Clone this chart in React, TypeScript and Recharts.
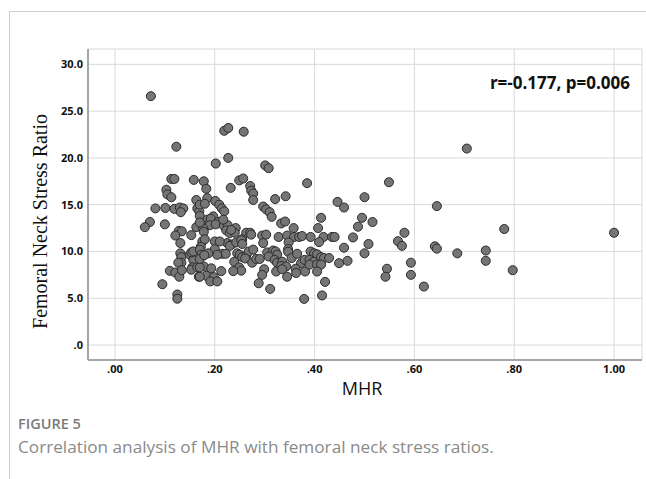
import {
  ScatterChart,
  Scatter,
  XAxis,
  YAxis,
  ZAxis,
  CartesianGrid,
  Label,
} from 'recharts';

// MHR (x) and femoral neck stress ratio (y)
const mhr = [
  0.072, 0.123, 0.113, 0.119, 0.158, 0.103, 0.105, 0.113, 0.163, 0.081,
  0.101, 0.119, 0.13, 0.137, 0.132, 0.165, 0.169, 0.07, 0.06, 0.1,
  0.163, 0.128, 0.134, 0.121, 0.153, 0.131, 0.131, 0.133, 0.133, 0.127,
  0.15, 0.157, 0.153, 0.155, 0.153, 0.11, 0.121, 0.129, 0.134, 0.165,
  0.168, 0.095, 0.125, 0.125, 0.157,
  0.227, 0.202, 0.219, 0.227, 0.258, 0.301, 0.308, 0.385, 0.178, 0.183,
  0.249, 0.257, 0.232, 0.271, 0.273, 0.277, 0.277, 0.321, 0.342, 0.446,
  0.185, 0.17, 0.18, 0.201, 0.209, 0.214, 0.219, 0.297, 0.303, 0.31,
  0.314, 0.413, 0.459, 0.17, 0.185, 0.197, 0.192, 0.207, 0.177, 0.19,
  0.202, 0.218, 0.226, 0.223, 0.242, 0.263, 0.271, 0.273, 0.333, 0.341,
  0.358, 0.407, 0.487, 0.177, 0.178, 0.23, 0.24, 0.295, 0.303, 0.328,
  0.345, 0.359, 0.369, 0.375, 0.392, 0.418, 0.435, 0.44, 0.477, 0.255,
  0.17, 0.217, 0.233, 0.225, 0.234,
  0.297, 0.348, 0.409, 0.459, 0.2, 0.21, 0.175, 0.18, 0.172, 0.17,
  0.23, 0.243, 0.253, 0.255, 0.2, 0.215, 0.222, 0.205, 0.187, 0.173,
  0.245, 0.25, 0.255, 0.263, 0.268, 0.277, 0.239, 0.249, 0.253, 0.237,
  0.261, 0.275, 0.283, 0.29, 0.305, 0.317, 0.322, 0.325, 0.308, 0.32,
  0.325, 0.335, 0.333, 0.347, 0.347, 0.354, 0.365, 0.373, 0.362, 0.363,
  0.381, 0.343, 0.345, 0.323, 0.335, 0.299, 0.295, 0.288, 0.311, 0.379,
  0.392, 0.399, 0.405, 0.413, 0.419, 0.429, 0.38, 0.39, 0.398, 0.39,
  0.405, 0.413, 0.405, 0.421, 0.415, 0.449, 0.466, 0.178, 0.193, 0.213,
  0.183, 0.198, 0.191, 0.205, 0.17, 0.17, 0.17, 0.179,
  0.705, 0.549, 0.5, 0.645, 0.495, 0.516, 0.58, 0.567, 0.575, 0.508,
  0.5, 0.641, 0.645, 0.686, 0.743, 0.743, 0.593, 0.593, 0.545, 0.542,
  0.619, 0.78, 0.797, 1.0,
];

const ratio = [
  26.6, 21.2, 17.75, 17.75, 17.65, 16.6, 16.1, 15.8, 15.5, 14.6,
  14.65, 14.55, 14.7, 14.6, 14.2, 14.6, 14.3, 13.15, 12.6, 12.9,
  12.6, 12.2, 12.15, 11.7, 11.75, 10.9, 9.8, 9.4, 8.8, 8.8,
  9.65, 9.1, 9.9, 8.3, 8.05, 7.93, 7.75, 7.3, 8.0, 8.3,
  7.3, 6.5, 5.4, 4.95, 10.0,
  20.0, 19.4, 22.9, 23.2, 22.8, 19.2, 18.9, 17.3, 17.5, 16.7,
  17.6, 17.8, 16.8, 17.0, 16.5, 16.2, 15.5, 15.6, 15.9, 15.3,
  15.7, 15.0, 15.1, 15.4, 15.0, 14.6, 14.3, 14.8, 14.5, 14.2,
  13.7, 13.6, 14.7, 13.8, 13.4, 13.75, 13.5, 13.15, 12.75, 12.8,
  12.9, 12.75, 12.8, 12.25, 12.5, 12.0, 12.0, 11.8, 13.0, 13.2,
  12.5, 12.5, 12.65, 12.45, 12.1, 11.97, 12.0, 11.7, 11.8, 11.55,
  11.7, 11.55, 11.55, 11.65, 11.55, 11.55, 11.55, 11.55, 11.5, 11.3,
  13.1, 13.4, 12.3, 10.9, 10.75,
  10.9, 10.96, 11.0, 10.4, 11.07, 11.07, 11.07, 11.3, 10.5, 10.2,
  10.6, 10.96, 11.2, 10.8, 10.25, 9.75, 9.75, 9.65, 9.8, 9.65,
  9.8, 9.65, 9.4, 9.55, 10.0, 10.2, 8.9, 8.3, 7.95, 7.9,
  9.25, 8.8, 9.2, 9.2, 9.9, 10.1, 10.0, 9.65, 9.46, 9.1,
  8.8, 8.9, 8.45, 10.25, 9.97, 9.3, 9.75, 8.75, 8.15, 7.7,
  7.86, 8.4, 7.3, 7.86, 8.1, 8.1, 7.5, 6.6, 6.0, 4.93,
  10.0, 9.8, 9.7, 9.4, 9.3, 9.3, 9.1, 9.1, 8.9, 8.6,
  8.6, 8.6, 7.86, 6.75, 5.3, 8.75, 9.0, 8.4, 8.2, 7.9,
  7.4, 7.25, 6.8, 6.8, 7.3, 8.3, 9.2, 9.6,
  21.0, 17.4, 15.8, 14.85, 13.6, 13.15, 12.0, 11.1, 10.6, 10.8,
  9.8, 10.55, 10.3, 9.8, 10.1, 9.0, 8.8, 7.5, 8.15, 7.3,
  6.25, 12.4, 8.0, 12.0,
];

const xTicks = [0, 0.2, 0.4, 0.6, 0.8, 1.0];
const yTicks = [0, 5, 10, 15, 20, 25, 30];

const points = mhr.map((x, i) => ({ x, y: ratio[i] }));

const fmtX = (v: number) => (v >= 1 ? v.toFixed(2) : v.toFixed(2).replace(/^0/, ''));
const fmtY = (v: number) => (v === 0 ? '.0' : v.toFixed(1));

const tickStyle = {
  fill: '#111',
  fontSize: 11,
  fontWeight: 700,
  fontFamily: '"Open Sans", sans-serif',
};

export default function App() {
  return (
    <div
      style={{
        position: 'fixed',
        top: 0,
        left: 0,
        width: 646,
        height: 479,
        overflow: 'hidden',
        background: '#fff',
      }}
    >
      {/* card frame */}
      <div
        style={{
          position: 'absolute',
          left: 9,
          top: 11,
          width: 700,
          height: 600,
          borderTop: '1px solid #cfcfcf',
          borderLeft: '1px solid #cfcfcf',
        }}
      />
      <div style={{ position: 'absolute', left: 0, top: 0 }}>
        <ScatterChart
          width={646}
          height={408}
          margin={{ top: 49, right: 4, bottom: 0, left: 0 }}
        >
          <CartesianGrid stroke="#d9d9d9" strokeWidth={1} />
          <XAxis
            type="number"
            dataKey="x"
            domain={[-0.054, 1.056]}
            ticks={xTicks}
            tickFormatter={fmtX}
            allowDataOverflow
            height={48}
            tickSize={0}
            tickMargin={5}
            tick={tickStyle}
            axisLine={{ stroke: '#a6a6a6', strokeWidth: 2 }}
          >
            <Label
              value="MHR"
              position="insideBottom"
              offset={13}
              dx={-3}
              style={{ fill: '#111', fontSize: 18, fontFamily: '"Open Sans", sans-serif' }}
            />
          </XAxis>
          <YAxis
            type="number"
            dataKey="y"
            domain={[-1.6, 31.64]}
            ticks={yTicks}
            tickFormatter={fmtY}
            allowDataOverflow
            width={88}
            tickSize={0}
            tickMargin={5}
            tick={tickStyle}
            axisLine={{ stroke: '#a6a6a6', strokeWidth: 2 }}
          >
            <Label
              value="Femoral Neck Stress Ratio"
              angle={-90}
              position="insideLeft"
              offset={40}
              dy={17}
              style={{
                fill: '#111',
                fontSize: 20,
                fontFamily: '"Liberation Serif", "Times New Roman", serif',
                textAnchor: 'middle',
              }}
            />
          </YAxis>
          <ZAxis range={[38, 38]} />
          <Scatter
            data={points}
            fill="#757575"
            stroke="#2b2b2b"
            strokeWidth={1}
            isAnimationActive={false}
          />
        </ScatterChart>
      </div>
      <div
        style={{
          position: 'absolute',
          right: 16,
          top: 71,
          fontFamily: '"Open Sans", sans-serif',
          fontWeight: 700,
          fontSize: 17,
          color: '#111',
          whiteSpace: 'nowrap',
        }}
      >
        r=-0.177, p=0.006
      </div>
      <div
        style={{
          position: 'absolute',
          left: 18,
          top: 414,
          fontFamily: '"Open Sans", sans-serif',
          fontWeight: 600,
          fontSize: 14.5,
          color: '#7a7a7a',
        }}
      >
        FIGURE 5
      </div>
      <div
        style={{
          position: 'absolute',
          left: 18,
          top: 435,
          fontFamily: '"Open Sans", sans-serif',
          fontSize: 17.2,
          color: '#8a8a8a',
          whiteSpace: 'nowrap',
        }}
      >
        Correlation analysis of MHR with femoral neck stress ratios.
      </div>
    </div>
  );
}
